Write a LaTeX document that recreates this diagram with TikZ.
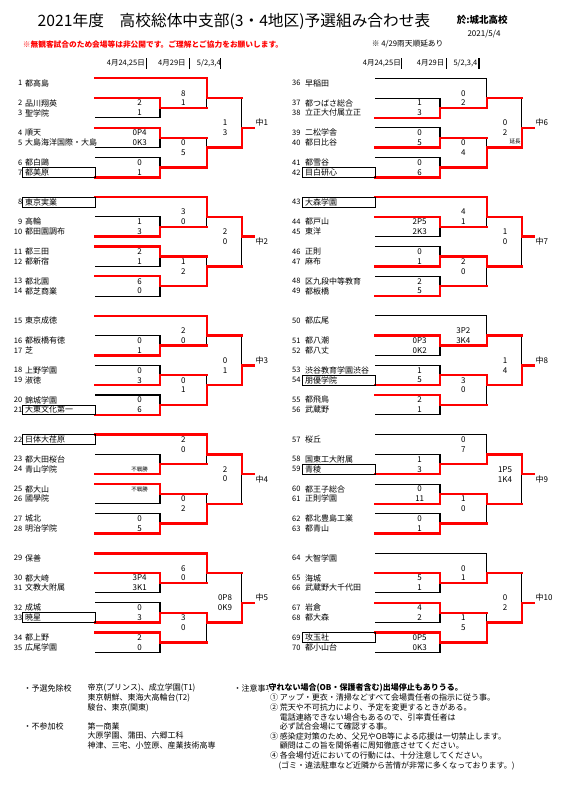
\documentclass[tikz,border=0pt]{standalone}
\usepackage{fontspec}
\setmainfont{Noto Sans CJK JP}
\definecolor{winred}{RGB}{255,0,0}

% column of the entry numbers (left half / right half)
\newcommand{\xnum}{22.5}
% walkover mark
\newcommand{\wo}{{\fontsize{5.5}{6}\selectfont 不戦勝}}

% lines of one block, winners: 0 = upper, 1 = lower
\newcommand{\brk}[6]{%
  \draw[wire] (95,0) -- (206.7,0) -- (206.7,3);
  \draw[wire] (95,2) -- (160,2) -- (160,4) -- (95,4);
  \draw[wire] (95,5) -- (160,5) -- (160,7) -- (95,7);
  \draw[wire] (95,8) -- (160,8) -- (160,10) -- (95,10);
  \draw[wire] (206.7,6) -- (206.7,9);
  \draw[wire] (241.7,2) -- (241.7,7);
  \draw[win] (95,{2+2*#1}) -- (160,{2+2*#1}) -- (160,3) -- (206.7,3);
  \draw[win] (95,{5+2*#2}) -- (160,{5+2*#2}) -- (160,6) -- (206.7,6);
  \draw[win] (95,{8+2*#3}) -- (160,{8+2*#3}) -- (160,9) -- (206.7,9);
  \ifnum#4=0 \draw[win] (95,0) -- (206.7,0) -- (206.7,2) -- (241.7,2);
  \else \draw[win] (206.7,3) -- (206.7,2) -- (241.7,2); \fi
  \draw[win] (206.7,{6+3*#5}) -- (206.7,7) -- (241.7,7);
  \draw[win] (241.7,{2+5*#6}) -- (241.7,{4+#6}) -- (253.3,{4+#6});
}

% seven entries: first number, seeded team, then name/score pairs
\newcommand{\teams}[3]{%
  \node[num] (n#1) at (\xnum,0.5) {#1};
  \node[team] (t#1) at (25,0.5) {#2};
  \foreach \nm/\scr [count=\kk] in {#3}{
    \pgfmathtruncatemacro\tno{#1+\kk}
    \pgfmathsetmacro\rw{{0.5,2.5,3.5,5.5,6.5,8.5,9.5}[\kk]}
    \node[num] (n\tno) at (\xnum,\rw) {\tno};
    \node[team] (t\tno) at (25,\rw) {\nm};
    \ifx\scr\empty\else\node[score] (s\tno) at (139.7,\rw) {\scr};\fi
  }}

% scores of the 2nd and 3rd rounds
\newcommand{\later}[9]{%
  \node[score] (#1a) at (183.3,#2) {#3};
  \node[score] (#1b) at (183.3,{#2+1}) {#4};
  \node[score] (#1c) at (183.3,6.5) {#5};
  \node[score] (#1d) at (183.3,7.5) {#6};
  \node[score] (#1e) at (225,#7) {#8};
  \node[score] (#1f) at (225,{#7+1}) {#9};
}

\begin{document}
\begin{tikzpicture}[x=1pt, y=-1pt]
  \tikzstyle{wire}=[black, line width=1.1pt]
  \tikzstyle{win}=[winred, line width=2.4pt, line cap=rect]
  \tikzstyle{num}=[anchor=east, inner sep=0pt, font=\fontsize{7.5}{8}\selectfont]
  \tikzstyle{team}=[anchor=west, inner sep=0pt, font=\fontsize{8}{9}\selectfont]
  \tikzstyle{score}=[inner sep=0pt, font=\fontsize{8}{9}\selectfont]
  \tikzstyle{zone}=[anchor=west, inner sep=0pt, font=\fontsize{8}{9}\selectfont]
  \tikzstyle{hostbox}=[black, line width=0.8pt]
  \tikzstyle{head}=[anchor=west, inner sep=0pt, font=\fontsize{7.5}{8}\selectfont]
  \tikzstyle{note}=[inner sep=0pt, font=\fontsize{8}{9.6}\selectfont]

  \useasboundingbox (0,0) rectangle (571,797);

  % Heading
  \node[font=\fontsize{15.7}{16}\selectfont] (title) at (234,21.7) {2021年度\hspace{1em}高校総体中支部(3・4地区)予選組み合わせ表};
  \node[font=\bfseries\fontsize{9.5}{10}\selectfont] (venue) at (482.3,20) {於:城北高校};
  \node[font=\fontsize{8}{9}\selectfont] (date) at (484,34.3) {2021/5/4};
  \node[anchor=west, inner sep=0pt, text=winred, font=\bfseries\fontsize{7.7}{8}\selectfont] (notice) at (22.7,44.3) {※無観客試合のため会場等は非公開です。ご理解とご協力をお願いします。};
  \node[anchor=west, inner sep=0pt, font=\fontsize{7.7}{8}\selectfont] (rain) at (371.7,44.3) {※ 4/29雨天順延あり};

  % Round dates
  \node[head] (d1) at (106.7,63.3) {4月24,25日};
  \node[head] (d2) at (158,63.3) {4月29日};
  \node[head] (d3) at (196.7,63.3) {5/2,3,4};
  \node[head] (d4) at (362.7,63.3) {4月24,25日};
  \node[head] (d5) at (416.7,63.3) {4月29日};
  \node[head] (d6) at (453.3,63.3) {5/2,3,4};
  \draw[line width=1.3pt] (146.7,58.5) -- (146.7,69);
  \draw[line width=1.3pt] (189.3,58.5) -- (189.3,69);
  \draw[line width=1.3pt] (220.7,58.5) -- (220.7,69);
  \draw[line width=1.3pt] (401.7,58.5) -- (401.7,69);
  \draw[line width=1.3pt] (446.7,58.5) -- (446.7,69);
  \draw[line width=1.3pt] (479,58.5) -- (479,69);

  % Left half
  \begin{scope}[shift={(0,78.3)}, y=-9.9pt]
    \brk{0}{0}{1}{0}{1}{1}
    \teams{1}{都高島}{品川翔英/2, 聖学院/1, 順天/0P4, 大島海洋国際・大島/0K3, 都白鷗/0, 都美原/1}
    \later{m1}{1.5}{8}{1}{0}{5}{4.5}{1}{3}
    \draw[hostbox] (22.8,9) rectangle (95,10);
    \node[zone] (z1) at (255.5,4.5) {中1};
  \end{scope}

  \begin{scope}[shift={(0,197.05)}, y=-9.9pt]
    \brk{1}{0}{0}{0}{1}{0}
    \teams{8}{東京実業}{高輪/1, 都田園調布/3, 都三田/2, 都新宿/1, 都北園/6, 都芝商業/0}
    \later{m2}{1.5}{3}{0}{1}{2}{3.5}{2}{0}
    \draw[hostbox] (22.8,0) rectangle (95,1);
    \node[zone] (z2) at (255.5,4.5) {中2};
  \end{scope}

  \begin{scope}[shift={(0,315.8)}, y=-9.9pt]
    \brk{1}{1}{1}{0}{1}{1}
    \teams{15}{東京成徳}{都板橋有徳/0, 芝/1, 上野学園/0, 淑徳/3, 錦城学園/0, 大東文化第一/6}
    \later{m3}{1.5}{2}{0}{0}{1}{4.5}{0}{1}
    \draw[hostbox] (22.8,9) rectangle (95,10);
    \node[zone] (z3) at (255.5,4.5) {中3};
  \end{scope}

  \begin{scope}[shift={(0,434.55)}, y=-9.9pt]
    \brk{1}{0}{1}{0}{1}{0}
    \teams{22}{日体大荏原}{都大田桜台/, 青山学院/\wo, 都大山/\wo, 國學院/, 城北/0, 明治学院/5}
    \later{m4}{0.5}{2}{0}{0}{2}{3.5}{2}{0}
    \draw[hostbox] (22.8,0) rectangle (95,1);
    \node[zone] (z4) at (255.5,4.5) {中4};
  \end{scope}

  \begin{scope}[shift={(0,553.3)}, y=-9.9pt]
    \brk{0}{1}{0}{0}{0}{1}
    \teams{29}{保善}{都大崎/3P4, 文教大附属/3K1, 成城/0, 暁星/3, 都上野/2, 広尾学園/0}
    \later{m5}{1.5}{6}{0}{3}{0}{4.5}{0P8}{0K9}
    \draw[hostbox] (22.8,6) rectangle (95,7);
    \node[zone] (z5) at (255.5,4.5) {中5};
  \end{scope}

  % Right half
  \renewcommand{\xnum}{20.7}
  \begin{scope}[shift={(280,78.3)}, y=-9.9pt]
    \brk{1}{1}{1}{1}{1}{1}
    \teams{36}{早稲田}{都つばさ総合/1, 立正大付属立正/3, 二松学舎/0, 都日比谷/5, 都雪谷/0, 目白研心/6}
    \later{m6}{1.5}{0}{2}{0}{4}{4.5}{0}{2}
    \node[inner sep=0pt, font=\fontsize{5.5}{6}\selectfont] (ext6) at (235,6.4) {延長};
    \draw[hostbox] (22.8,9) rectangle (95,10);
    \node[zone] (z6) at (255.5,4.5) {中6};
  \end{scope}

  \begin{scope}[shift={(280,197.05)}, y=-9.9pt]
    \brk{0}{1}{1}{0}{0}{0}
    \teams{43}{大森学園}{都戸山/2P5, 東洋/2K3, 正則/0, 麻布/1, 区九段中等教育/2, 都板橋/5}
    \later{m7}{1.5}{4}{1}{2}{0}{3.5}{1}{0}
    \draw[hostbox] (22.8,0) rectangle (95,1);
    \node[zone] (z7) at (255.5,4.5) {中7};
  \end{scope}

  \begin{scope}[shift={(280,315.8)}, y=-9.9pt]
    \brk{0}{1}{0}{1}{0}{1}
    \teams{50}{都広尾}{都八潮/0P3, 都八丈/0K2, 渋谷教育学園渋谷/1, 朋優学院/5, 都飛鳥/2, 武蔵野/1}
    \later{m8}{1.5}{3P2}{3K4}{3}{0}{4.5}{1}{4}
    \draw[hostbox] (22.8,6) rectangle (95,7);
    \node[zone] (z8) at (255.5,4.5) {中8};
  \end{scope}

  \begin{scope}[shift={(280,434.55)}, y=-9.9pt]
    \brk{1}{1}{1}{1}{0}{0}
    \teams{57}{桜丘}{国東工大附属/1, 青稜/3, 都王子総合/0, 正則学園/11, 都北豊島工業/0, 都青山/1}
    \later{m9}{0.5}{0}{7}{1}{0}{3.5}{1P5}{1K4}
    \draw[hostbox] (22.8,3) rectangle (95,4);
    \node[zone] (z9) at (255.5,4.5) {中9};
  \end{scope}

  \begin{scope}[shift={(280,553.3)}, y=-9.9pt]
    \brk{0}{0}{0}{1}{1}{1}
    \teams{64}{大智学園}{海城/5, 武蔵野大千代田/1, 岩倉/4, 都大森/2, 攻玉社/0P5, 都小山台/0K3}
    \later{m10}{1.5}{0}{1}{1}{5}{4.5}{0}{2}
    \draw[hostbox] (22.8,8) rectangle (95,9);
    \node[zone] (z10) at (255.5,4.5) {中10};
  \end{scope}

  % Notes
  \node[note, anchor=west] (exempt) at (23.3,688.3) {・予選免除校};
  \node[note, anchor=north west, align=left] (exemptlist) at (87.3,684) {帝京(プリンス)、成立学園(T1)\\東京朝鮮、東海大高輪台(T2)\\駿台、東京(関東)};
  \node[note, anchor=west] (absent) at (23.3,726.7) {・不参加校};
  \node[note, anchor=north west, align=left] (absentlist) at (87.3,722.4) {第一商業\\大原学園、蒲田、六郷工科\\神津、三宅、小笠原、産業技術高専};
  \node[note, anchor=west] (caution) at (233.3,688.3) {・注意事項};
  \node[note, anchor=west, fill=white, font=\bfseries\fontsize{8}{9.6}\selectfont] (warn) at (268.3,688.3) {守れない場合(OB・保護者含む)出場停止もありうる。};
  \node[note, anchor=north west, align=left] (rules) at (270,694) {①\ アップ・更衣・清掃などすべて会場責任者の指示に従う事。\\②\ 荒天や不可抗力により、予定を変更するときがある。\\\hphantom{②\ }電話連絡できない場合もあるので、引率責任者は\\\hphantom{②\ }必ず試合会場にて確認する事。\\③\ 感染症対策のため、父兄やOB等による応援は一切禁止します。\\\hphantom{③\ }顧問はこの旨を関係者に周知徹底させてください。\\④\ 各会場付近においての行動には、十分注意してください。\\\hspace{8.3pt}(ゴミ・違法駐車など近隣から苦情が非常に多くなっております。)};
\end{tikzpicture}
\end{document}
